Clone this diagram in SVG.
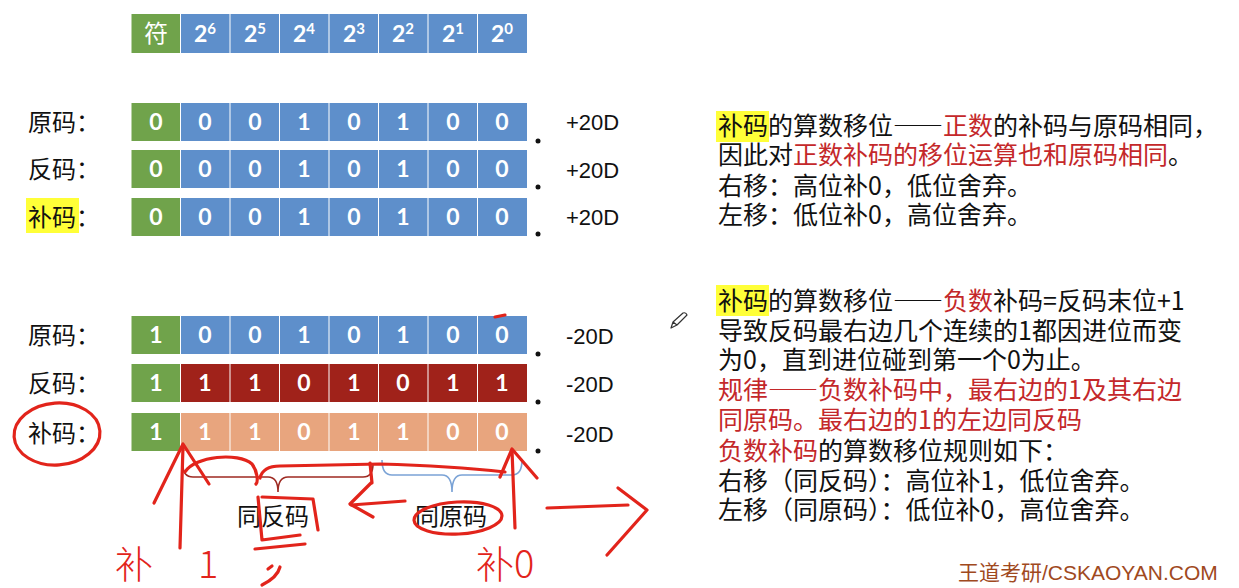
<svg xmlns="http://www.w3.org/2000/svg" width="1239" height="588" viewBox="0 0 1239 588">
<style>
.cn{font-family:"Noto Sans CJK SC","Noto Sans",sans-serif}
.lbl{font-family:"Noto Sans CJK SC",sans-serif;font-size:24px;fill:#111}
.txt{font-family:"Noto Sans CJK SC",sans-serif;font-size:25px;fill:#111}
.red{fill:#C4282A}
.dash{font-feature-settings:"fwid" 1}
.d{font-family:Lato,"Liberation Sans",sans-serif;font-weight:bold;font-size:23px;fill:#fff;text-anchor:middle}
.val{font-family:"Liberation Sans",Arial,sans-serif;font-size:22px;fill:#111}
.g{fill:#70A34B}
.b{fill:#5E8FCB}
.r{fill:#A0221A}
.s{fill:#E8A57E}
.hl{fill:#FFFF38}
.dot{fill:#111}
.ink{fill:none;stroke:#E2241B;stroke-width:3.2;stroke-linecap:round;stroke-linejoin:round}
.hw{font-family:"Noto Sans CJK SC",sans-serif;font-weight:300;fill:#E2241B}
</style>
<rect width="1239" height="588" fill="#fff"/>

<g id="header">
<rect class="g" x="131.5" y="14" width="48.5" height="39"/>
<rect class="b" x="181" y="14" width="48.5" height="39"/>
<rect class="b" x="230.5" y="14" width="48.5" height="39"/>
<rect class="b" x="280" y="14" width="48.5" height="39"/>
<rect class="b" x="329.5" y="14" width="48.5" height="39"/>
<rect class="b" x="379" y="14" width="48.5" height="39"/>
<rect class="b" x="428.5" y="14" width="48.5" height="39"/>
<rect class="b" x="478" y="14" width="49" height="39"/>
<text class="cn" x="156" y="42" font-size="24" fill="#fff" text-anchor="middle">符</text>
<text class="d" x="205" y="42">2<tspan dy="-8" font-size="15">6</tspan></text>
<text class="d" x="255" y="42">2<tspan dy="-8" font-size="15">5</tspan></text>
<text class="d" x="304" y="42">2<tspan dy="-8" font-size="15">4</tspan></text>
<text class="d" x="354" y="42">2<tspan dy="-8" font-size="15">3</tspan></text>
<text class="d" x="403" y="42">2<tspan dy="-8" font-size="15">2</tspan></text>
<text class="d" x="453" y="42">2<tspan dy="-8" font-size="15">1</tspan></text>
<text class="d" x="502" y="42">2<tspan dy="-8" font-size="15">0</tspan></text>
</g>

<g id="pos-yuan">
<text class="lbl" x="28" y="131">原码：</text>
<rect class="g" x="131.5" y="103" width="48.5" height="38"/>
<rect class="b" x="181" y="103" width="48.5" height="38"/>
<rect class="b" x="230.5" y="103" width="48.5" height="38"/>
<rect class="b" x="280" y="103" width="48.5" height="38"/>
<rect class="b" x="329.5" y="103" width="48.5" height="38"/>
<rect class="b" x="379" y="103" width="48.5" height="38"/>
<rect class="b" x="428.5" y="103" width="48.5" height="38"/>
<rect class="b" x="478" y="103" width="49" height="38"/>
<text class="d" y="130"><tspan x="156">0</tspan><tspan x="205">0</tspan><tspan x="255">0</tspan><tspan x="304">1</tspan><tspan x="354">0</tspan><tspan x="403">1</tspan><tspan x="453">0</tspan><tspan x="502">0</tspan></text>
<circle class="dot" cx="538" cy="141" r="2.5"/>
<text class="val" x="566" y="130">+20D</text>
</g>

<g id="pos-fan">
<text class="lbl" x="28" y="178">反码：</text>
<rect class="g" x="131.5" y="150" width="48.5" height="38"/>
<rect class="b" x="181" y="150" width="48.5" height="38"/>
<rect class="b" x="230.5" y="150" width="48.5" height="38"/>
<rect class="b" x="280" y="150" width="48.5" height="38"/>
<rect class="b" x="329.5" y="150" width="48.5" height="38"/>
<rect class="b" x="379" y="150" width="48.5" height="38"/>
<rect class="b" x="428.5" y="150" width="48.5" height="38"/>
<rect class="b" x="478" y="150" width="49" height="38"/>
<text class="d" y="177"><tspan x="156">0</tspan><tspan x="205">0</tspan><tspan x="255">0</tspan><tspan x="304">1</tspan><tspan x="354">0</tspan><tspan x="403">1</tspan><tspan x="453">0</tspan><tspan x="502">0</tspan></text>
<circle class="dot" cx="538" cy="187" r="2.5"/>
<text class="val" x="566" y="178">+20D</text>
</g>

<g id="pos-bu">
<rect class="hl" x="26" y="198" width="53" height="35"/>
<text class="lbl" x="28" y="226">补码：</text>
<rect class="g" x="131.5" y="198" width="48.5" height="38"/>
<rect class="b" x="181" y="198" width="48.5" height="38"/>
<rect class="b" x="230.5" y="198" width="48.5" height="38"/>
<rect class="b" x="280" y="198" width="48.5" height="38"/>
<rect class="b" x="329.5" y="198" width="48.5" height="38"/>
<rect class="b" x="379" y="198" width="48.5" height="38"/>
<rect class="b" x="428.5" y="198" width="48.5" height="38"/>
<rect class="b" x="478" y="198" width="49" height="38"/>
<text class="d" y="225"><tspan x="156">0</tspan><tspan x="205">0</tspan><tspan x="255">0</tspan><tspan x="304">1</tspan><tspan x="354">0</tspan><tspan x="403">1</tspan><tspan x="453">0</tspan><tspan x="502">0</tspan></text>
<circle class="dot" cx="538" cy="234" r="2.5"/>
<text class="val" x="566" y="225">+20D</text>
</g>

<g id="neg-yuan">
<text class="lbl" x="28" y="344">原码：</text>
<rect class="g" x="131.5" y="316" width="48.5" height="38"/>
<rect class="b" x="181" y="316" width="48.5" height="38"/>
<rect class="b" x="230.5" y="316" width="48.5" height="38"/>
<rect class="b" x="280" y="316" width="48.5" height="38"/>
<rect class="b" x="329.5" y="316" width="48.5" height="38"/>
<rect class="b" x="379" y="316" width="48.5" height="38"/>
<rect class="b" x="428.5" y="316" width="48.5" height="38"/>
<rect class="b" x="478" y="316" width="49" height="38"/>
<text class="d" y="343"><tspan x="156">1</tspan><tspan x="205">0</tspan><tspan x="255">0</tspan><tspan x="304">1</tspan><tspan x="354">0</tspan><tspan x="403">1</tspan><tspan x="453">0</tspan><tspan x="502">0</tspan></text>
<circle class="dot" cx="538" cy="354" r="2.5"/>
<text class="val" x="566" y="344">-20D</text>
</g>

<g id="neg-fan">
<text class="lbl" x="28" y="392">反码：</text>
<rect class="g" x="131.5" y="364" width="48.5" height="38"/>
<rect class="r" x="181" y="364" width="48.5" height="38"/>
<rect class="r" x="230.5" y="364" width="48.5" height="38"/>
<rect class="r" x="280" y="364" width="48.5" height="38"/>
<rect class="r" x="329.5" y="364" width="48.5" height="38"/>
<rect class="r" x="379" y="364" width="48.5" height="38"/>
<rect class="r" x="428.5" y="364" width="48.5" height="38"/>
<rect class="r" x="478" y="364" width="49" height="38"/>
<text class="d" y="391"><tspan x="156">1</tspan><tspan x="205">1</tspan><tspan x="255">1</tspan><tspan x="304">0</tspan><tspan x="354">1</tspan><tspan x="403">0</tspan><tspan x="453">1</tspan><tspan x="502">1</tspan></text>
<circle class="dot" cx="538" cy="402" r="2.5"/>
<text class="val" x="566" y="392">-20D</text>
</g>

<g id="neg-bu">
<text class="lbl" x="28" y="442">补码：</text>
<rect class="g" x="131.5" y="413" width="48.5" height="38"/>
<rect class="s" x="181" y="413" width="48.5" height="38"/>
<rect class="s" x="230.5" y="413" width="48.5" height="38"/>
<rect class="s" x="280" y="413" width="48.5" height="38"/>
<rect class="s" x="329.5" y="413" width="48.5" height="38"/>
<rect class="s" x="379" y="413" width="48.5" height="38"/>
<rect class="s" x="428.5" y="413" width="48.5" height="38"/>
<rect class="s" x="478" y="413" width="49" height="38"/>
<text class="d" y="440"><tspan x="156">1</tspan><tspan x="205">1</tspan><tspan x="255">1</tspan><tspan x="304">0</tspan><tspan x="354">1</tspan><tspan x="403">1</tspan><tspan x="453">0</tspan><tspan x="502">0</tspan></text>
<circle class="dot" cx="538" cy="451" r="2.5"/>
<text class="val" x="566" y="442">-20D</text>
</g>

<g id="connectors">
<path d="M183,465 Q183,477 193,477 H268 Q278,477 278,492 Q278,477 288,477 H363 Q373,477 373,464" fill="none" stroke="#9E2A22" stroke-width="1.6"/>
<path d="M382,460 Q382,475 392,475 H442 Q452,475 452,492 Q452,475 462,475 H512 Q522,475 522,460" fill="none" stroke="#7BA3D6" stroke-width="1.6"/>
</g>

<g id="brace-labels">
<text class="lbl" x="237" y="525">同反码</text>
<text class="lbl" x="415" y="525">同原码</text>
</g>

<g id="text-positive">
<rect class="hl" x="716" y="111" width="53" height="31"/>
<text class="txt" x="718" y="135">补码的算数移位<tspan class="dash">——</tspan><tspan class="red">正数</tspan>的补码与原码相同，</text>
<text class="txt" x="718" y="164">因此对<tspan class="red">正数补码的移位运算也和原码相同</tspan>。</text>
<text class="txt" x="718" y="195">右移：高位补0，低位舍弃。</text>
<text class="txt" x="718" y="224">左移：低位补0，高位舍弃。</text>
</g>

<g id="text-negative">
<rect class="hl" x="716" y="285" width="53" height="31"/>
<text class="txt" x="718" y="310">补码的算数移位<tspan class="dash">——</tspan><tspan class="red">负数</tspan>补码=反码末位+1</text>
<text class="txt" x="718" y="340">导致反码最右边几个连续的1都因进位而变</text>
<text class="txt" x="718" y="369">为0，直到进位碰到第一个0为止。</text>
<text class="txt red" x="718" y="399">规律<tspan class="dash">——</tspan>负数补码中，最右边的1及其右边</text>
<text class="txt red" x="718" y="429">同原码。最右边的1的左边同反码</text>
<text class="txt" x="718" y="460"><tspan class="red">负数补码</tspan>的算数移位规则如下：</text>
<text class="txt" x="718" y="490">右移（同反码）：高位补1，低位舍弃。</text>
<text class="txt" x="718" y="519">左移（同原码）：低位补0，高位舍弃。</text>
</g>

<g id="pencil">
<path d="M671,328 L673,322 L683,313 Q686,312 687,315 L677,325 Z M673,322 L677,325" fill="none" stroke="#333" stroke-width="1.2" stroke-linejoin="round"/>
</g>

<g id="watermark">
<text x="958" y="580" font-family="'Liberation Sans','Noto Sans CJK SC',sans-serif" font-size="21" fill="#A0491E">王道考研/CSKAOYAN.COM</text>
</g>

<g id="annotations">
<ellipse class="ink" cx="57" cy="434" rx="43" ry="31" transform="rotate(-4 57 434)"/>
<path class="ink" d="M495,317 L505,315"/>
<path class="ink" d="M180,548 L183,446"/>
<path class="ink" d="M154,503 L183,444 L209,484"/>
<path class="ink" d="M185,472 C195,456 238,452 252,464 C258,472 258,482 256,484"/>
<path class="ink" d="M260,478 C262,470 268,466 280,466 L380,464 C420,465 470,468 505,472"/>
<path class="ink" d="M370,463 L372,483"/>
<path class="ink" d="M405,501 L351,505"/>
<path class="ink" d="M371,483 L350,504 L373,517"/>
<path class="ink" d="M515,528 L512,450"/>
<path class="ink" d="M500,477 L512,449 L537,478"/>
<path class="ink" d="M547,508 L628,505"/>
<path class="ink" d="M618,488 L647,510 L607,555"/>
<ellipse class="ink" cx="458" cy="518" rx="44" ry="16" transform="rotate(-3 458 518)"/>
<path class="ink" d="M258,497 L262,540 L300,535"/>
<path class="ink" d="M262,497 L313,499 L318,530"/>
<path class="ink" d="M255,549 L305,544"/>
<path class="ink" d="M268,569 L272,566 M262,585 C270,581 278,575 280,567"/>
<text class="hw" x="115" y="578" font-size="38">补</text>
<text class="hw" x="198" y="578" font-size="38">1</text>
<text class="hw" x="476" y="578" font-size="38">补0</text>
</g>
</svg>
